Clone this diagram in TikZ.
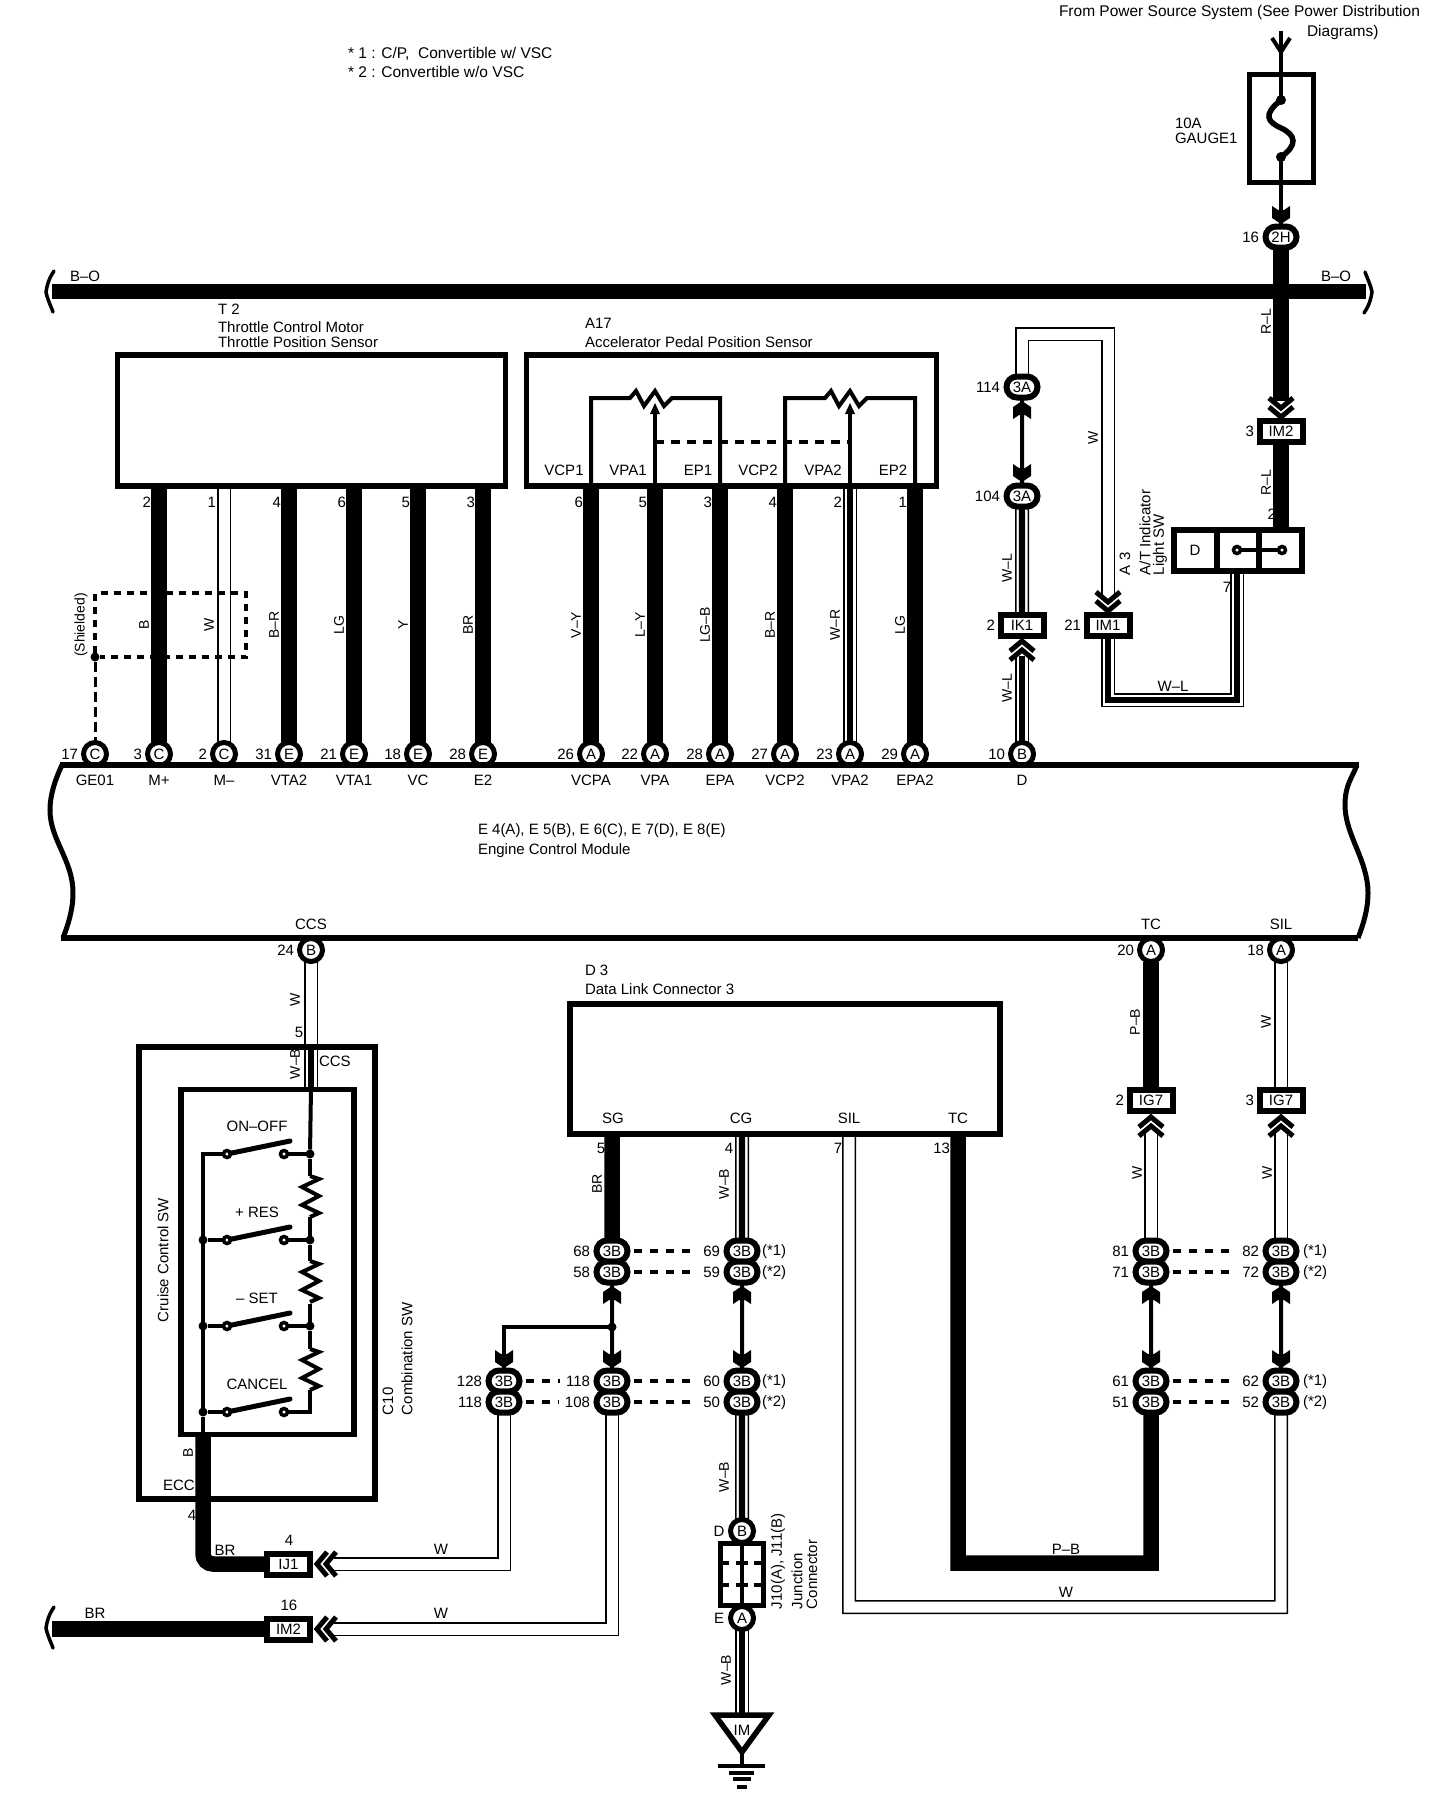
\documentclass[tikz,border=0pt]{standalone}
\usepackage{fontspec}
\setmainfont{Liberation Sans}
\usetikzlibrary{shapes.misc,backgrounds}
\tikzset{
 wirethick/.style={line width=7.75pt},
 wirethin/.style={line width=2pt},
 wirew/.style={line width=.75pt,double=white,double distance=5.5pt},
 wirewb/.style={line width=3.2pt,preaction={draw,wirew}},
 partbox/.style={rectangle,draw,line width=2.75pt,inner sep=0pt,outer sep=0pt},
 pincirc/.style={circle,draw,fill=white,line width=2.5pt,inner sep=0pt,minimum size=11.5pt},
 pinoval/.style={rounded rectangle,draw,fill=white,line width=3pt,inner sep=0pt,minimum width=15.5pt,minimum height=10.5pt},
 pinbox/.style={rectangle,draw,fill=white,line width=3pt,inner sep=0pt,minimum width=21.5pt,minimum height=10.5pt},
 wirelab/.style={rotate=90,font=\fontsize{7}{8}\selectfont},
 sidelab/.style={rotate=90,anchor=west},
 leftlab/.style={anchor=west},
 pinlab/.style={anchor=east},
 dotnode/.style={circle,fill=black,inner sep=0pt,minimum size=4.5pt},
 contact/.style={circle,draw,fill=white,line width=1.75pt,inner sep=0pt,minimum size=3.5pt},
 dashcon/.style={line width=2.25pt,dash pattern=on 4pt off 4pt},
 pics/plugb/.style={code={\fill (-9,-18)--(-9,-6)--(0,0)--(9,-6)--(9,-18)--(3,-14)--(-3,-14)--cycle;}},
 pics/plugv/.style={code={\draw[line width=2.5pt] (-12,-21)--(0,-11)--(12,-21) (-12,-12)--(0,-2)--(12,-12);}},
 pics/squig/.style={code={\draw[line width=1.75pt,line cap=round] (4,-21) .. controls (-2,-12) and (-3,-6) .. (-4,0) .. controls (-3,6) and (0,12) .. (3,20);}},
 pics/reszig/.style={code={\draw[line width=2pt] (0,0)--(9,3)--(-8,11)--(9,20)--(-8,29)--(9,37)--(0,41);}}
}
\begin{document}
\begin{tikzpicture}[x=.5pt,y=-.5pt,every node/.style={inner sep=0pt,outer sep=0pt,font=\fontsize{7.5}{9}\selectfont}]
\useasboundingbox (0,0) rectangle (1456,1800);
\node (srca) [leftlab,font=\fontsize{7.75}{9}\selectfont] at (1059,12) {From Power Source System (See Power Distribution};
\node (srcb) [leftlab,font=\fontsize{7.75}{9}\selectfont] at (1307,32) {Diagrams)};
\node (notea) [leftlab,font=\fontsize{7.75}{9}\selectfont] at (348,54) {* 1 : C/P,\ \ Convertible w/ VSC};
\node (noteb) [leftlab,font=\fontsize{7.75}{9}\selectfont] at (348,72) {* 2 : Convertible w/o VSC};
\node (fuseamp) [leftlab] at (1175,123) {10A};
\node (fusename) [leftlab] at (1175,138) {GAUGE1};
\node (bola) [leftlab] at (70,276) {B--O};
\node (bolb) [leftlab] at (1321,276) {B--O};
\node (rla) [wirelab] at (1266,322) {R--L};
\node (rlb) [wirelab] at (1266,483) {R--L};
\node (tta) [leftlab] at (218,309) {T 2};
\node (ttb) [leftlab] at (218,327) {Throttle Control Motor};
\node (ttc) [leftlab] at (218,342) {Throttle Position Sensor};
\node (apa) [leftlab] at (585,323) {A17};
\node (apb) [leftlab] at (585,342) {Accelerator Pedal Position Sensor};
\node (eca) [leftlab] at (478,831) {E 4(A), E 5(B), E 6(C), E 7(D), E 8(E)};
\node (ecb) [leftlab] at (478,851) {Engine Control Module};
\node (fusebox) [partbox,minimum width=32pt,minimum height=54pt] at (1281.5,128.5) {};
\node (t2box) [partbox,minimum width=194pt,minimum height=65.5pt] at (311.5,420.5) {};
\node (a17box) [partbox,minimum width=205pt,minimum height=65.5pt] at (731.5,420.5) {};
\node (a3box) [partbox,line width=3pt,minimum width=64pt,minimum height=20.5pt] at (1238,550.5) {};
\node (d3box) [partbox,minimum width=215pt,minimum height=65pt] at (785,1069) {};
\node (c10box) [partbox,minimum width=118pt,minimum height=226pt] at (257,1273) {};
\node (crbox) [partbox,minimum width=86.5pt,minimum height=172.5pt] at (267.5,1262) {};
\node (jbox) [partbox,minimum width=21.5pt,minimum height=31pt] at (742,1574.5) {};
\node (gnd) at (742,1730) {IM};
\foreach \nm/\x/\t in {vcpa/564/VCP1,vpaa/628/VPA1,epa/698/EP1,vcpb/758/VCP2,vpab/823/VPA2,epb/893/EP2}
 \node (i\nm) at (\x,470) {\t};
\foreach \nm/\x/\pin/\con/\sig in {ge/95/17/C/GE01,mp/159/3/C/M+,mm/224/2/C/M--,ta/289/31/E/VTA2,tb/354/21/E/VTA1,vc/418/18/E/VC,ee/483/28/E/E2,ca/591/26/A/VCPA,va/655/22/A/VPA,ep/720/28/A/EPA,cb/785/27/A/VCP2,vb/850/23/A/VPA2,eb/915/29/A/EPA2,dd/1022/10/B/D}
{
 \node (c\nm) [pincirc] at (\x,754) {\con};
 \node (n\nm) [pinlab] at (\x-17,754) {\pin};
 \node (s\nm) at (\x,780) {\sig};
}
\foreach \nm/\x/\pin/\lab in {mp/159/2/B,mm/224/1/W,ta/289/4/B--R,tb/354/6/LG,vc/418/5/Y,ee/483/3/BR,ca/591/6/V--Y,va/655/5/L--Y,ep/720/3/LG--B,cb/785/4/B--R,vb/850/2/W--R,eb/915/1/LG}
{
 \node (u\nm) [pinlab] at (\x-8,502) {\pin};
 \node (wl\nm) [wirelab] at (\x-15,625) {\lab};
}
\node (shld) [wirelab] at (81,625) {(Shielded)};
\node (shdot) [dotnode] at (95,657) {};
\foreach \nm/\x/\pin/\con/\sig in {ccs/311/24/B/CCS,tc/1151/20/A/TC,sil/1281/18/A/SIL}
{
 \node (b\nm) [pincirc] at (\x,950) {\con};
 \node (m\nm) [pinlab] at (\x-17,950) {\pin};
 \node (t\nm) at (\x,924) {\sig};
}
\node (ctop) [pinoval] at (1281,237) {2H};
\node (ntop) [pinlab] at (1259,237) {16};
\node (ca114) [pinoval] at (1022,387) {3A};
\node (na114) [pinlab] at (1000,387) {114};
\node (ca104) [pinoval] at (1022,496) {3A};
\node (na104) [pinlab] at (1000,496) {104};
\foreach \nm/\x/\y/\pin/\t in {im2/1281/431.5/3/IM2,ik1/1022/625/2/IK1,im1/1108/625/21/IM1,iga/1151/1100/2/IG7,igb/1281/1100/3/IG7}
{
 \node (\nm) [pinbox] at (\x,\y) {\t};
 \node (p\nm) [pinlab] at (\x-27,\y) {\pin};
}
\node (ija) [pinbox] at (288.5,1564) {IJ1};
\node (pija) at (289,1540) {4};
\node (imb) [pinbox] at (288.5,1629) {IM2};
\node (pimb) at (289,1605) {16};
\node (swd) at (1195,550) {D};
\node (sw2) [pinlab] at (1276,514) {2};
\node (sw7) at (1227,587) {7};
\node (swa) [contact] at (1237,550) {};
\node (swb) [contact] at (1282,550) {};
\node (a3a) [sidelab] at (1125,575) {A 3};
\node (a3b) [sidelab] at (1145,575) {A/T Indicator};
\node (a3c) [sidelab] at (1160,575) {Light SW};
\node (lwa) [wirelab] at (1093,438) {W};
\node (lwb) [wirelab] at (1007,568) {W--L};
\node (lwc) [wirelab] at (1007,688) {W--L};
\node (lwd) at (1173,686) {W--L};
\node (da) [leftlab] at (585,970) {D 3};
\node (db) [leftlab] at (585,989) {Data Link Connector 3};
\node (dsg) at (613,1118) {SG};
\node (dcg) at (741,1118) {CG};
\node (dsil) at (849,1118) {SIL};
\node (dtc) at (958,1118) {TC};
\node (pa) at (601,1148) {5};
\node (pb) at (729,1148) {4};
\node (pc) at (838,1148) {7};
\node (pd) [pinlab] at (950,1148) {13};
\node (lsg) [wirelab] at (597,1184) {BR};
\node (lcg) [wirelab] at (724,1184) {W--B};
\node (lpb) [wirelab] at (1135,1022) {P--B};
\node (lsa) [wirelab] at (1266,1022) {W};
\node (lta) [wirelab] at (1137,1173) {W};
\node (lsb) [wirelab] at (1267,1173) {W};
\node (lhp) at (1066,1549) {P--B};
\node (lhw) at (1066,1592) {W};
\node (lja) at (441,1549) {W};
\node (ljb) at (441,1613) {W};
\node (lbr) at (95,1613) {BR};
\node (ljc) [wirelab] at (724,1477) {W--B};
\node (ljd) [wirelab] at (726,1670) {W--B};
\foreach \nm/\x/\y/\pin in {68/612/1251/68,58/612/1272/58,69/742/1251/69,59/742/1272/59,128/504/1381/128,118/504/1402/118,218/612/1381/118,108/612/1402/108,60/742/1381/60,50/742/1402/50,81/1151/1251/81,71/1151/1272/71,82/1281/1251/82,72/1281/1272/72,61/1151/1381/61,51/1151/1402/51,62/1281/1381/62,52/1281/1402/52}
{
 \node (o\nm) [pinoval] at (\x,\y) {3B};
 \node (q\nm) [pinlab] at (\x-22,\y) {\pin};
}
\foreach \nm/\x/\y/\t in {a/762/1252/(*1),b/762/1273/(*2),c/762/1382/(*1),d/762/1403/(*2),e/1303/1252/(*1),f/1303/1273/(*2),g/1303/1382/(*1),h/1303/1403/(*2)}
 \node (sf\nm) [leftlab] at (\x,\y) {\t};
\node (cpb) [pincirc] at (742,1531) {B};
\node (cpa) [pincirc] at (742,1618) {A};
\node (cpd) at (719,1531) {D};
\node (cpe) at (719,1618) {E};
\node (ja) [sidelab] at (778,1609) {J10(A), J11(B)};
\node (jb) [sidelab] at (797,1609) {Junction};
\node (jc) [sidelab] at (812,1609) {Connector};
\node (cra) [wirelab,font=\fontsize{7.5}{9}\selectfont] at (163,1260) {Cruise Control SW};
\node (cmba) [sidelab] at (388,1415) {C10};
\node (cmbb) [sidelab] at (407,1415) {Combination SW};
\node (cmbc) [leftlab] at (319,1061) {CCS};
\node (cpf) at (299,1032) {5};
\node (lcw) [wirelab] at (295,1000) {W};
\node (lcwb) [wirelab] at (295,1064) {W--B};
\node (lbb) [wirelab] at (188,1453) {B};
\node (ecc) [leftlab] at (163,1485) {ECC};
\node (cp4) at (192,1515) {4};
\node (lbm) at (225,1550) {BR};
\foreach \y/\t in {1154/ON--OFF,1240/+ RES,1326/-- SET,1412/CANCEL}
{
 \node (sl\y) at (257,\y-28) {\t};
 \node (sa\y) [contact] at (227,\y) {};
 \node (sb\y) [contact] at (284,\y) {};
 \draw[line width=2.5pt,line cap=round] (sa\y) -- (290,\y-13);
}
\foreach \y in {1240,1326,1412}
 \node (ra\y) [dotnode] at (203,\y) {};
\foreach \y in {1154,1240,1326}
 \node (rb\y) [dotnode] at (310,\y) {};
\foreach \y in {1176,1261,1349}
 \pic at (310,\y) {reszig};
\coordinate (wtop) at (1281,31);
\coordinate (fusea) at (1281,100);
\coordinate (fuseb) at (1281,157);
\coordinate (rltip) at (1281,401);
\coordinate (ikend) at (1022,656);
\coordinate (wbend) at (1108,334);
\coordinate (imend) at (1108,596);
\coordinate (a3pin) at (1237,571);
\coordinate (ijend) at (334,1564);
\coordinate (imbend) at (334,1629);
\coordinate (silb) at (1281,1607);
\coordinate (tcb) at (1151,1563);
\coordinate (igaend) at (1151,1133);
\coordinate (igbend) at (1281,1133);
\coordinate (brl) at (52,1629);
\coordinate (grtop) at (742,1713);
\coordinate (grend) at (742,1766);
\begin{scope}[on background layer]
\fill[white] (0,0) rectangle (1456,1800);
\draw[wirethick] (ctop) -- (rltip);
\draw[wirethick] (im2) -- (im2 |- a3box.north);
\draw[wirethick] (52,291.5) -- (1366,291.5);
\foreach \nm in {mp,ta,tb,vc,ee}
 \draw[wirethick] (c\nm) -- (c\nm |- t2box.south);
\draw[wirew] (cmm) -- (cmm |- t2box.south);
\foreach \nm in {ca,va,ep,cb,eb}
 \draw[wirethick] (c\nm) -- (c\nm |- a17box.south);
\draw[wirewb] (cvb) -- (cvb |- a17box.south);
\draw[wirewb] (cdd) -- (ikend);
\draw[wirewb] (ik1) -- (ca104);
\draw[wirethin] (ca114) -- (ca104);
\draw[wirew] (ca114) |- (wbend) -- (imend);
\draw[wirewb] (im1) |- (1237,700) -- (a3pin);
\draw[wirew] (bccs) -- (311,1045);
\draw[wirewb] (311,1045) -- (311,1088);
\draw[wirethin] (311,1088) -- (rb1154);
\draw[wirethick] (btc) -- (iga);
\draw[wirew] (bsil) -- (igb);
\draw[wirew] (igaend) -- (o81);
\draw[wirew] (igbend) -- (o82);
\draw[wirethick] (o68) -- (o68 |- d3box.south);
\draw[wirewb] (o69) -- (o69 |- d3box.south);
\draw[wirew] (dsil |- d3box.south) |- (silb) -- (o52);
\draw[wirethick] (dtc |- d3box.south) |- (tcb) -- (o51);
\draw[wirethin] (o58) -- (o218);
\draw[wirethin] (o59) -- (o60);
\draw[wirethin] (o71) -- (o61);
\draw[wirethin] (o72) -- (o62);
\draw[wirew] (o118) |- (ijend);
\draw[wirew] (o108) |- (imbend);
\draw[wirewb] (o50) -- (cpb);
\draw[wirewb] (cpa) -- (grtop);
\draw[wirethick] (crbox.south -| 203,0) -- (203,1556) [rounded corners=5pt] -- (203,1564) -- (ija);
\draw[wirethick] (brl) -- (imb);
\end{scope}
\draw[wirethin] (wtop) -- (fusea);
\draw[wirethin] (1272,38) -- (1281,52) -- (1290,38);
\draw[wirethin] (fuseb) -- (ctop);
\draw[line width=2.75pt] (fusea) .. controls (1262,115) and (1268,122) .. (1281,128) .. controls (1296,135) and (1298,145) .. (fuseb);
\fill (fusea) circle (2.5pt);
\fill (fuseb) circle (2.5pt);
\pic at (1281,224) {plugb};
\pic at (1281,419) {plugv};
\pic at (50,292) {squig};
\pic[rotate=180] at (1368,292) {squig};
\pic[rotate=180] at (1022,401) {plugb};
\pic at (1022,482) {plugb};
\pic[rotate=180] at (1022,639) {plugv};
\pic at (1108,613) {plugv};
\foreach \a/\b/\c in {591/655/720,785/850/915}
{
 \draw[wirethin] (\a,485) -- (\a,398) -- (\b-25,398) -- (\b-19,391) -- (\b-11,406) -- (\b,391) -- (\b+9,406) -- (\b+17,398) -- (\c,398) -- (\c,485);
 \draw[wirethin] (\b,485) -- (\b,410);
 \fill (\b,403) -- (\b-5,414) -- (\b+5,414) -- cycle;
}
\draw[wirethin,dash pattern=on 4.5pt off 3.5pt] (655,442) -- (850,442);
\draw[line width=1.75pt,dash pattern=on 3.5pt off 3pt] (shdot) |- (246,593) |- (shdot);
\draw[line width=1.5pt,dash pattern=on 5pt off 2.5pt] (shdot) -- (cge);
\draw[partbox,draw] (1217,530) -- (1217,571);
\draw[partbox,draw] (1259,530) -- (1259,571);
\draw[wirethin] (swa) -- (swb);
\draw[line width=3pt] (60,765) -- (1359,765);
\draw[line width=3pt] (61,937.5) -- (1358,937.5);
\draw[line width=2.5pt] (62,765) .. controls (55,780) and (50,795) .. (50,810) .. controls (50,840) and (73,860) .. (73,893) .. controls (73,910) and (68,925) .. (63,938);
\draw[line width=2.5pt] (1357,765) .. controls (1352,778) and (1345,785) .. (1345,805) .. controls (1345,835) and (1368,860) .. (1368,893) .. controls (1368,910) and (1363,925) .. (1358,938);
\draw[wirethin] (sa1154) -| (ra1412);
\draw[wirethin] (ra1412) -- (203,1436);
\foreach \y in {1240,1326,1412}
 \draw[wirethin] (ra\y) -- (sa\y);
\foreach \y in {1154,1240,1326}
 \draw[wirethin] (sb\y) -- (rb\y);
\draw[wirethin] (sb1412) -| (310,1390);
\draw[wirethin] (rb1154) -- (310,1176);
\draw[wirethin] (310,1217) -- (rb1240) -- (310,1261);
\draw[wirethin] (310,1304) -- (rb1326) -- (310,1349);
\foreach \a/\b in {68/q69,58/q59,218/q60,108/q50,81/q82,71/q72,61/q62,51/q52,128/q218,118/q108}
 \draw[dashcon] ([xshift=3pt]o\a.east) -- ([xshift=-3pt]\b.west);
\pic[rotate=180] at (612,1286) {plugb};
\pic[rotate=180] at (742,1286) {plugb};
\pic[rotate=180] at (1151,1286) {plugb};
\pic[rotate=180] at (1281,1286) {plugb};
\node (jn) [dotnode] at (612,1327) {};
\draw[wirethin] (jn) -| (o128);
\foreach \x in {504,612,742,1151,1281}
 \pic at (\x,1368) {plugb};
\pic[rotate=180] at (1151,1115) {plugv};
\pic[rotate=180] at (1281,1115) {plugv};
\pic[rotate=-90] at (315,1564) {plugv};
\pic[rotate=-90] at (315,1629) {plugv};
\pic at (50,1628) {squig};
\draw[wirethin] (jbox.north) -- (jbox.south);
\foreach \y in {1563,1585}
{
 \draw[line width=2pt] (720,\y) -- (729,\y);
 \draw[line width=2pt] (736,\y) -- (748,\y);
 \draw[line width=2pt] (754,\y) -- (764,\y);
}
\draw[line width=2.75pt] (715,1715) -- (769,1715) -- (742,1752) -- cycle;
\draw[wirethin] (742,1752) -- (grend);
\draw[line width=1.75pt] (718,1766) -- (765,1766);
\draw[line width=1.75pt] (729,1773) -- (754,1773);
\draw[line width=1.75pt] (733,1779) -- (751,1779);
\draw[line width=1.75pt] (737,1787) -- (747,1787);
\end{tikzpicture}
\end{document}
